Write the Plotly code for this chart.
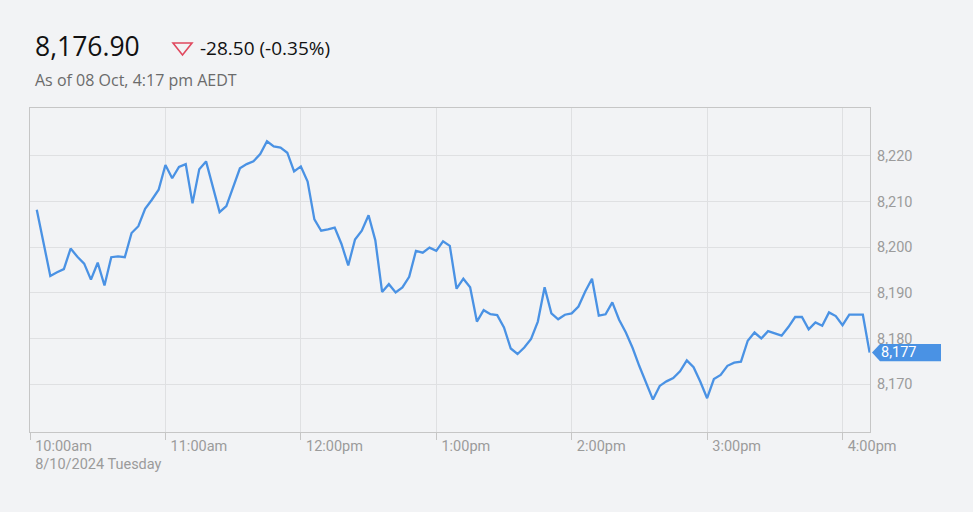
import pandas as pd
import plotly.graph_objects as go

# ---------------- data ----------------
start_time = "2024-10-08 10:03"
step = "3min"
values = [
    8208.2, 8201.0, 8193.7, 8194.5, 8195.2, 8199.7, 8197.9, 8196.4, 8192.9, 8196.6,
    8191.6, 8197.8, 8198.0, 8197.8, 8203.1, 8204.6, 8208.4, 8210.4, 8212.6, 8218.0,
    8215.1, 8217.6, 8218.2, 8209.6, 8217.1, 8218.8, 8213.1, 8207.7, 8209.0, 8213.1,
    8217.3, 8218.2, 8218.8, 8220.4, 8223.2, 8222.1, 8221.8, 8220.7, 8216.6, 8217.7,
    8214.4, 8206.1, 8203.6, 8203.9, 8204.3, 8200.7, 8196.0, 8201.7, 8203.6, 8207.0,
    8201.5, 8190.2, 8191.9, 8190.1, 8191.2, 8193.5, 8199.2, 8198.8, 8199.9, 8199.2,
    8201.3, 8200.3, 8190.9, 8193.1, 8191.2, 8183.7, 8186.2, 8185.3, 8185.1, 8182.4,
    8177.8, 8176.6, 8178.0, 8179.9, 8183.7, 8191.2, 8185.5, 8184.2, 8185.2, 8185.5,
    8187.0, 8190.3, 8193.1, 8185.0, 8185.3, 8187.9, 8184.1, 8181.3, 8177.9, 8173.9,
    8170.2, 8166.6, 8169.6, 8170.6, 8171.3, 8172.8, 8175.2, 8173.7, 8170.5, 8166.9,
    8171.1, 8172.0, 8174.0, 8174.7, 8174.9, 8179.5, 8181.3, 8180.0, 8181.6, 8181.1,
    8180.6, 8182.5, 8184.7, 8184.7, 8182.0, 8183.5, 8182.8, 8185.7, 8184.9, 8182.9,
    8185.2, 8185.2, 8185.2, 8176.9,
]
times = pd.date_range(start_time, periods=len(values), freq=step)

x_tick_vals = ["2024-10-08 10:00", "2024-10-08 11:00", "2024-10-08 12:00",
               "2024-10-08 13:00", "2024-10-08 14:00", "2024-10-08 15:00",
               "2024-10-08 16:00"]
x_tick_text = ["10:00am<br>8/10/2024 Tuesday", "11:00am", "12:00pm", "1:00pm",
               "2:00pm", "3:00pm", "4:00pm"]
y_tick_vals = [8170, 8180, 8190, 8200, 8210, 8220]
x_range = ["2024-10-08 10:00:00", "2024-10-08 16:12:10"]
y_range = [8159.5, 8230.5]

price_text = "8,176.90"
change_text = "-28.50 (-0.35%)"
asof_text = "As of 08 Oct, 4:17 pm AEDT"

# ---------------- style ----------------
BG = "#f2f3f5"
LINE = "#4a92e4"
GRID = "#dfe0e2"
AXIS = "#c6c6c6"
TICKFONT = dict(family="Roboto", size=14.5, color="#9b9b9b")

fig = go.Figure()
fig.add_trace(go.Scatter(
    x=times, y=values, mode="lines",
    line=dict(color=LINE, width=2.3),
    hoverinfo="skip", showlegend=False,
))

last = values[-1]
last_frac = (last - y_range[0]) / (y_range[1] - y_range[0])

fig.update_layout(
    width=973, height=512,
    margin=dict(l=30, r=103, t=108, b=80),
    paper_bgcolor=BG, plot_bgcolor=BG,
    xaxis=dict(
        range=x_range, type="date",
        tickmode="array", tickvals=x_tick_vals, ticktext=x_tick_text,
        ticklabelposition="outside right", ticklabelshift=4,
        ticks="outside", ticklen=7, tickcolor=AXIS, tickwidth=1,
        showgrid=True, gridcolor=GRID, gridwidth=1,
        showline=True, linecolor=AXIS, linewidth=1.3, mirror=True,
        tickfont=TICKFONT, zeroline=False, fixedrange=True,
    ),
    yaxis=dict(
        range=y_range, side="right",
        tickmode="array", tickvals=y_tick_vals, tickformat=",",
        ticks="", ticklabelstandoff=3,
        showgrid=True, gridcolor=GRID, gridwidth=1,
        showline=True, linecolor=AXIS, linewidth=1.3, mirror=True,
        tickfont=TICKFONT, zeroline=False, fixedrange=True,
    ),
    shapes=[
        # down triangle (outlined) in header
        dict(type="path", xref="paper", yref="paper",
             xsizemode="pixel", ysizemode="pixel", xanchor=0, yanchor=1,
             path="M143,65 L162,65 L152.5,53 Z",
             line=dict(color="#e0485e", width=1.6), fillcolor="rgba(0,0,0,0)"),
        # last-value tag
        dict(type="path", xref="paper", yref="paper",
             xsizemode="pixel", ysizemode="pixel", xanchor=1, yanchor=last_frac,
             path="M2,0 L10,8.7 L71,8.7 L71,-8.7 L10,-8.7 Z",
             line=dict(width=0), fillcolor=LINE),
    ],
    annotations=[
        dict(xref="paper", yref="paper", x=0, y=1, xshift=3, yshift=62,
             xanchor="left", yanchor="middle", showarrow=False,
             text=price_text, font=dict(family="Open Sans", size=26.5, color="#111111")),
        dict(xref="paper", yref="paper", x=0, y=1, xshift=168, yshift=60,
             xanchor="left", yanchor="middle", showarrow=False,
             text=change_text, font=dict(family="Open Sans", size=19, color="#111111")),
        dict(xref="paper", yref="paper", x=0, y=1, xshift=3, yshift=28,
             xanchor="left", yanchor="middle", showarrow=False,
             text=asof_text, font=dict(family="Open Sans", size=16, color="#6b6b6b")),
        dict(xref="paper", yref="paper", x=1, y=last_frac, xshift=9,
             xanchor="left", yanchor="middle", showarrow=False,
             text=f"{last:,.0f}", font=dict(family="Roboto", size=14.5, color="#ffffff")),
    ],
)

fig.write_html("out.html", config={"displayModeBar": False},
               post_script="document.body.style.margin='0';")
